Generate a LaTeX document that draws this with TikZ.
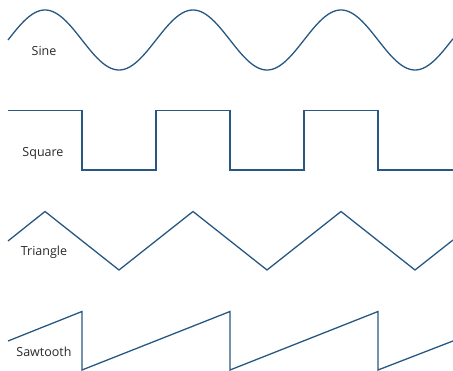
\documentclass[tikz,border=0pt]{standalone}
\usepackage{fontspec}
\setmainfont{Open Sans}
\definecolor{wave}{RGB}{38,88,130}
\definecolor{lbl}{RGB}{40,40,40}
\begin{document}
\begin{tikzpicture}[x=1pt,y=-1pt,
  wav/.style={draw=wave,line width=1.3pt,line join=miter},
  lab/.style={font=\fontsize{12.5}{15}\selectfont,text=lbl,inner sep=0pt}]
\useasboundingbox (0,0) rectangle (453,371);
% Sine
\draw[wav] plot[domain=8:453,samples=240,smooth] (\x,{40-30*sin(2.4324324*(\x-8))});
% Square
\draw[wav] (8,110.5) -- (82,110.5) -- (82,170) -- (156,170) -- (156,110.5) -- (230,110.5) -- (230,170) -- (304,170) -- (304,110.5) -- (378,110.5) -- (378,170) -- (453,170);
% Triangle
\draw[wav] (8,241) -- (45,211.5) -- (119,270) -- (193,211.5) -- (267,270) -- (341,211.5) -- (415,270) -- (453,240);
% Sawtooth
\draw[wav] (8,341) -- (82,311.5) -- (82,370) -- (230,311.5) -- (230,370) -- (378,311.5) -- (378,370) -- (453,341);
\node[lab] (sine) at (44,51) {Sine};
\node[lab] (square) at (43,153) {Square};
\node[lab] (triangle) at (44,252) {Triangle};
\node[lab] (saw) at (44,352) {Sawtooth};
\end{tikzpicture}
\end{document}
